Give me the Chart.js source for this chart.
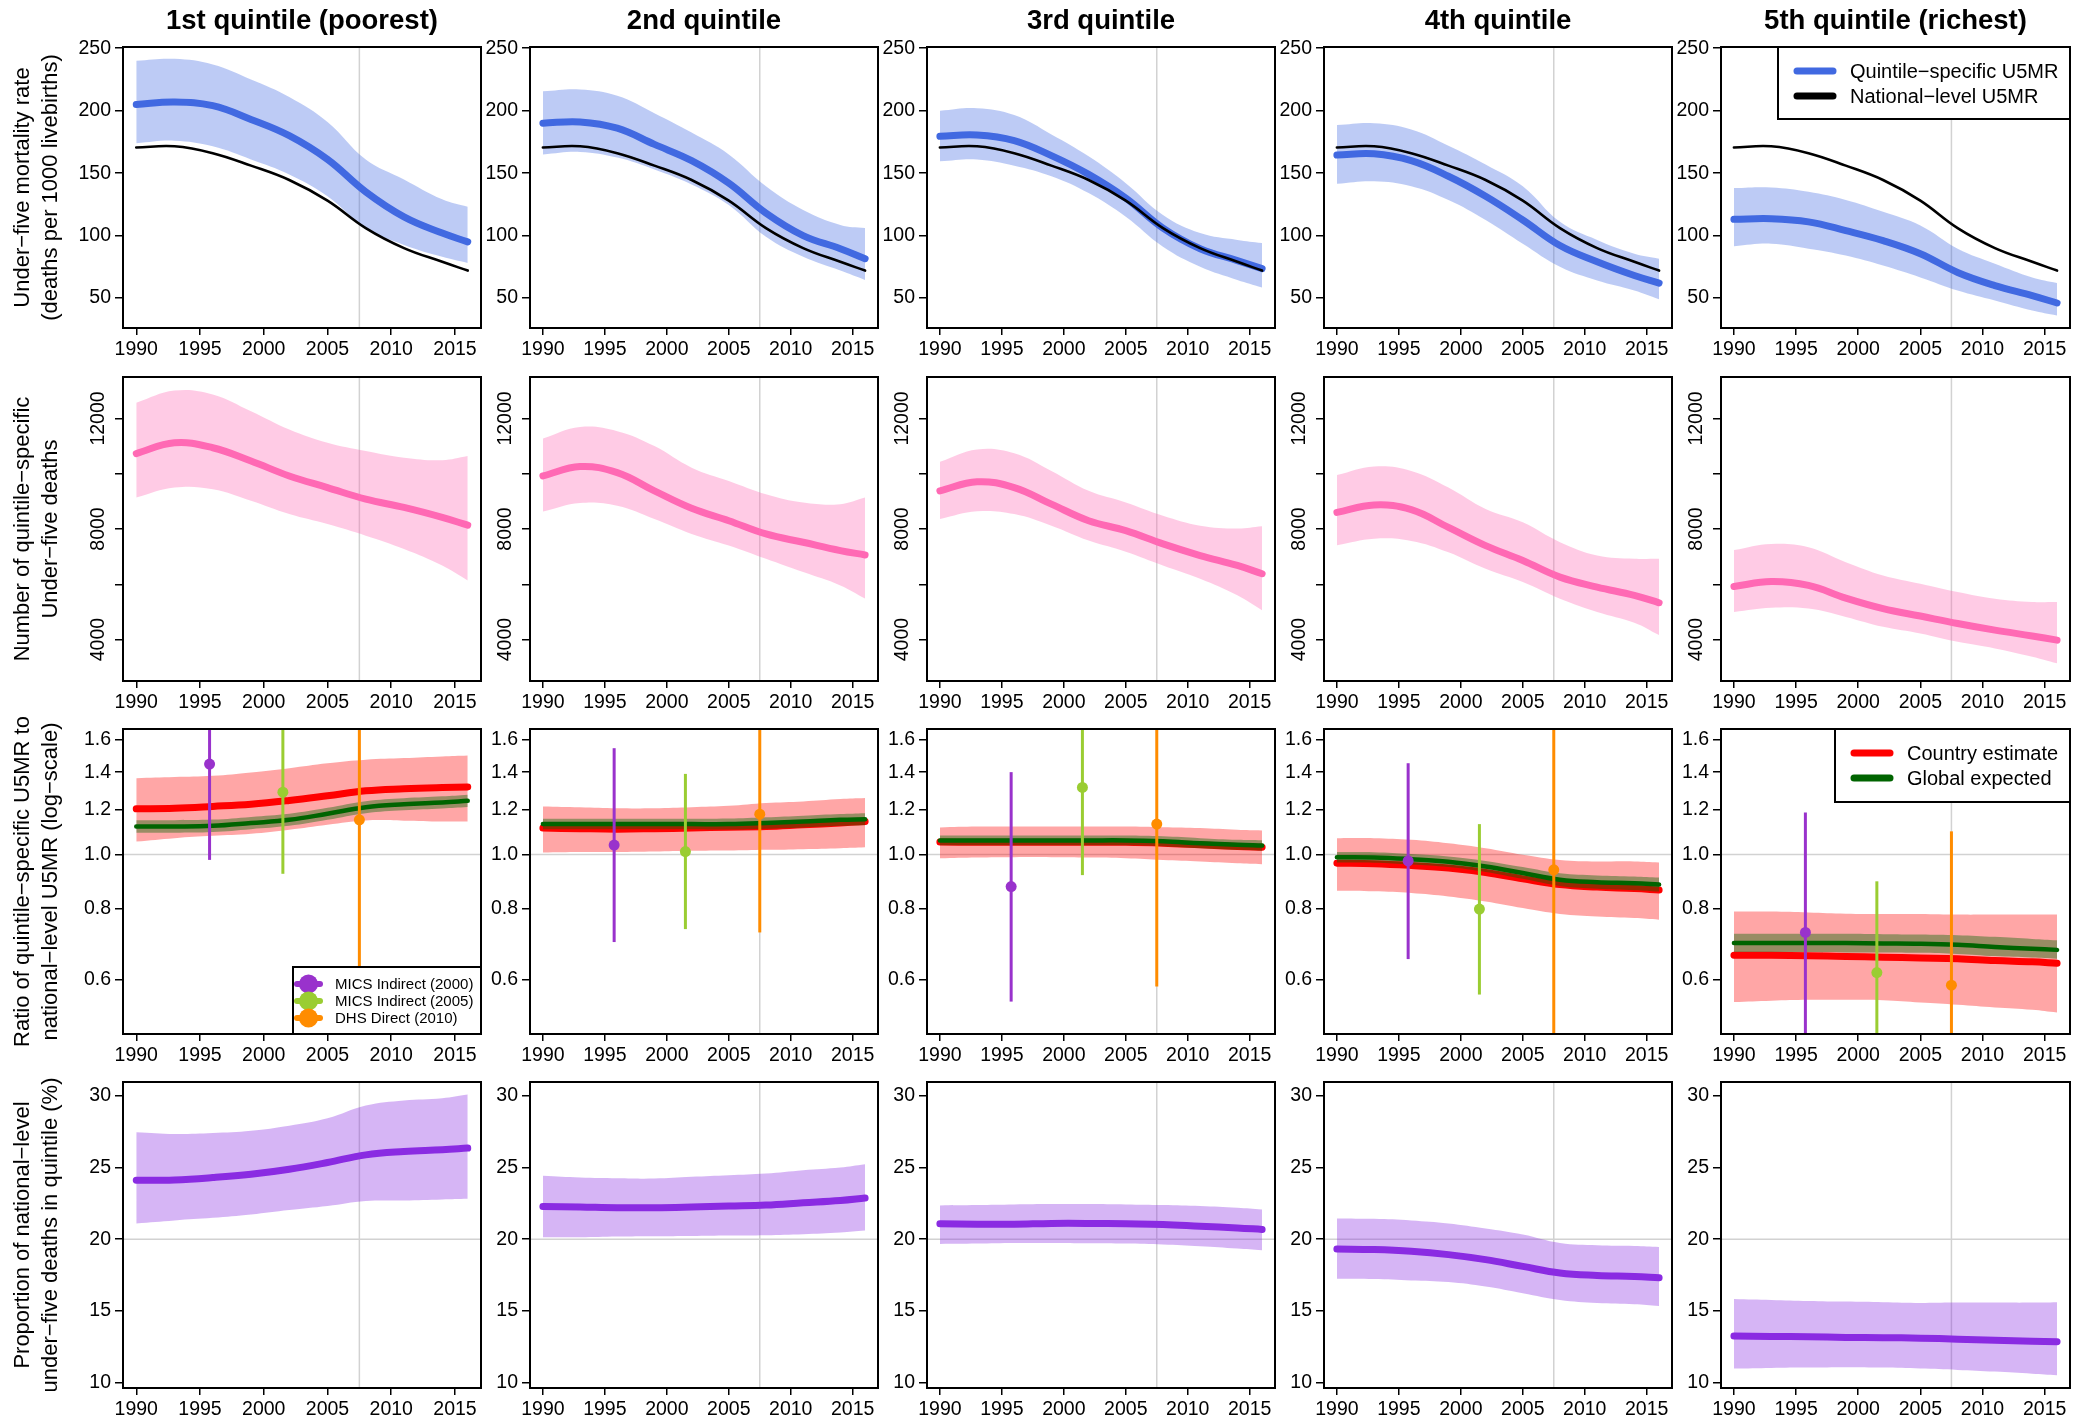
<!DOCTYPE html>
<html lang="en">
<head>
<meta charset="UTF-8">
<title>Under-five mortality by wealth quintile</title>
<script src="https://cdn.jsdelivr.net/npm/chart.js"></script>
<style>
    body { margin: 0; background: #fff; }
    #grid { position: relative; width: 2092px; height: 1419px; overflow: hidden; }
    #grid canvas { position: absolute; }
</style>
</head>
<body>
<div id="grid"></div>
<script>
// years the curves are read at
const years = [1990, 1993, 1996, 1999, 2002, 2005, 2008, 2011, 2014, 2016];
const xTicks = [1990, 1995, 2000, 2005, 2010, 2015];
const refYear = 2007.5;

const quintileTitles = ['1st quintile (poorest)', '2nd quintile', '3rd quintile', '4th quintile', '5th quintile (richest)'];
const rowTitles = [
    ['Under\u2212five mortality rate', '(deaths per 1000 livebirths)'],
    ['Number of quintile\u2212specific', 'Under\u2212five deaths'],
    ['Ratio of quintile\u2212specific U5MR to', 'national\u2212level U5MR (log\u2212scale)'],
    ['Proportion of national\u2212level', 'under\u2212five deaths in quintile (%)']
];

// row 1: U5MR
const u5mrTicks = [50, 100, 150, 200, 250];
const u5mrLegend = ['Quintile\u2212specific U5MR', 'National\u2212level U5MR'];
const nationalU5MR = [170.5, 171.5, 166, 156, 144.5, 128, 106, 90, 79, 72];
const u5mrMid = [
    [205, 207, 204, 193, 180, 161, 135, 115, 102, 95],
    [190, 191, 186, 173, 160, 142, 118, 100, 89.5, 81.5],
    [179.5, 180.5, 176, 164, 149, 130, 106, 89.5, 80, 73.5],
    [164.5, 165.5, 160, 147.5, 131.5, 112.5, 92, 79, 68, 62],
    [113, 113.5, 111, 104, 96, 85.5, 70.5, 60, 52, 46]
];
const u5mrHi = [
    [240, 241.5, 237, 225, 211, 191, 161, 145, 129, 123],
    [215.5, 217, 212, 198, 182.5, 165, 139.5, 120.5, 108.5, 106],
    [200, 202, 196.5, 181, 163.5, 142, 116.5, 102, 96.5, 94],
    [188.5, 190, 185, 172, 157, 139.5, 111, 96.5, 85.5, 81.5],
    [138, 138.5, 135, 128.5, 119, 108, 89.5, 77.5, 66.5, 62]
];
const u5mrLo = [
    [174, 176, 171.5, 161, 149, 131.5, 106, 92.5, 83, 78],
    [165, 167, 162.5, 153, 141, 124.5, 99, 83, 72, 64.5],
    [159.5, 161, 156, 147.5, 134, 115, 91, 75, 64.5, 58.5],
    [141.5, 143.5, 139.5, 128.5, 112.5, 93.5, 75, 64, 56, 49],
    [91.5, 93.5, 89.5, 84, 76, 66.5, 56, 48, 40, 36]
];

// row 2: number of deaths
const deathTicks = [4000, 6000, 8000, 10000, 12000];
const deathLabels = [4000, 8000, 12000];
const deathsMid = [
    [10730, 11120, 10940, 10460, 9920, 9500, 9080, 8780, 8420, 8140],
    [9920, 10260, 10040, 9380, 8750, 8300, 7820, 7520, 7220, 7060],
    [9380, 9710, 9500, 8900, 8300, 7940, 7460, 7040, 6680, 6380],
    [8600, 8870, 8700, 8060, 7400, 6860, 6260, 5900, 5600, 5330],
    [5920, 6100, 5960, 5500, 5120, 4850, 4580, 4340, 4130, 3980]
];
const deathsHi = [
    [12570, 13010, 12870, 12260, 11600, 11120, 10820, 10580, 10490, 10640],
    [11270, 11690, 11540, 11000, 10220, 9740, 9260, 8960, 8900, 9140],
    [10430, 10880, 10740, 10100, 9380, 8960, 8480, 8120, 8020, 8100],
    [9950, 10260, 10100, 9500, 8720, 8240, 7520, 7040, 6920, 6920],
    [7240, 7460, 7340, 6800, 6320, 6020, 5720, 5480, 5360, 5360]
];
const deathsLo = [
    [9140, 9500, 9440, 9020, 8540, 8180, 7760, 7280, 6680, 6140],
    [8630, 8940, 8840, 8360, 7820, 7400, 6920, 6440, 5960, 5480],
    [8360, 8640, 8540, 8120, 7580, 7180, 6680, 6200, 5600, 5060],
    [7410, 7650, 7570, 7160, 6560, 6080, 5480, 5000, 4610, 4160],
    [5000, 5150, 5120, 4820, 4460, 4220, 3920, 3680, 3380, 3140]
];

// row 3: ratio to national level (log scale)
const ratioTicks = [0.6, 0.8, 1.0, 1.2, 1.4, 1.6];
const ratioLegend = ['Country estimate', 'Global expected'];
const ratioMid = [
    [1.205, 1.208, 1.217, 1.228, 1.247, 1.271, 1.297, 1.308, 1.315, 1.318],
    [1.114, 1.111, 1.109, 1.111, 1.114, 1.118, 1.121, 1.129, 1.137, 1.144],
    [1.052, 1.051, 1.051, 1.051, 1.051, 1.051, 1.047, 1.040, 1.033, 1.030],
    [0.965, 0.963, 0.956, 0.946, 0.929, 0.905, 0.884, 0.875, 0.870, 0.865],
    [0.662, 0.662, 0.661, 0.659, 0.657, 0.655, 0.653, 0.648, 0.645, 0.641]
];
const ratioHi = [
    [1.366, 1.372, 1.379, 1.398, 1.423, 1.452, 1.473, 1.483, 1.493, 1.499],
    [1.217, 1.213, 1.208, 1.208, 1.213, 1.220, 1.234, 1.242, 1.254, 1.259],
    [1.117, 1.121, 1.121, 1.121, 1.121, 1.121, 1.118, 1.114, 1.106, 1.103],
    [1.069, 1.069, 1.062, 1.047, 1.026, 0.999, 0.978, 0.972, 0.972, 0.968],
    [0.792, 0.792, 0.789, 0.785, 0.784, 0.784, 0.782, 0.782, 0.782, 0.782]
];
const ratioLo = [
    [1.054, 1.069, 1.079, 1.088, 1.106, 1.129, 1.149, 1.148, 1.144, 1.144],
    [1.008, 1.010, 1.010, 1.012, 1.015, 1.016, 1.019, 1.022, 1.026, 1.030],
    [0.985, 0.988, 0.989, 0.989, 0.988, 0.985, 0.978, 0.972, 0.965, 0.961],
    [0.862, 0.860, 0.854, 0.842, 0.825, 0.803, 0.784, 0.776, 0.771, 0.766],
    [0.547, 0.550, 0.552, 0.552, 0.551, 0.546, 0.541, 0.535, 0.530, 0.524]
];
const globalMid = [
    [1.121, 1.121, 1.124, 1.137, 1.152, 1.181, 1.213, 1.228, 1.237, 1.245],
    [1.132, 1.132, 1.132, 1.132, 1.132, 1.132, 1.137, 1.144, 1.152, 1.155],
    [1.059, 1.059, 1.059, 1.059, 1.059, 1.059, 1.055, 1.047, 1.040, 1.037],
    [0.989, 0.988, 0.981, 0.971, 0.952, 0.927, 0.902, 0.893, 0.889, 0.884],
    [0.696, 0.696, 0.696, 0.696, 0.695, 0.694, 0.691, 0.685, 0.680, 0.677]
];
const globalHi = [
    [1.150, 1.150, 1.153, 1.166, 1.181, 1.210, 1.243, 1.258, 1.268, 1.277],
    [1.157, 1.157, 1.157, 1.157, 1.157, 1.158, 1.164, 1.172, 1.180, 1.184],
    [1.080, 1.080, 1.080, 1.080, 1.080, 1.080, 1.077, 1.069, 1.062, 1.060],
    [1.010, 1.009, 1.002, 0.992, 0.974, 0.950, 0.926, 0.918, 0.914, 0.910],
    [0.723, 0.723, 0.723, 0.723, 0.722, 0.721, 0.719, 0.714, 0.708, 0.704]
];
const globalLo = [
    [1.093, 1.093, 1.096, 1.109, 1.124, 1.152, 1.184, 1.198, 1.207, 1.214],
    [1.108, 1.108, 1.108, 1.108, 1.108, 1.107, 1.111, 1.117, 1.124, 1.127],
    [1.038, 1.038, 1.038, 1.038, 1.038, 1.038, 1.034, 1.026, 1.019, 1.015],
    [0.968, 0.967, 0.960, 0.950, 0.931, 0.905, 0.879, 0.869, 0.864, 0.859],
    [0.671, 0.671, 0.671, 0.670, 0.670, 0.669, 0.666, 0.660, 0.656, 0.653]
];

// survey data points with uncertainty
const surveyNames = ['MICS Indirect (2000)', 'MICS Indirect (2005)', 'DHS Direct (2010)'];
const surveyYears = [1995.75, 2001.5, 2007.5];
const surveyRatio = [
    [1.447, 1.290, 1.152],
    [1.039, 1.012, 1.179],
    [0.877, 1.315, 1.132],
    [0.974, 0.800, 0.939],
    [0.727, 0.617, 0.586]
];
const surveyHi = [
    [2.0, 2.0, 2.0],
    [1.544, 1.390, 2.0],
    [1.400, 2.0, 2.0],
    [1.452, 1.132, 2.0],
    [1.187, 0.896, 1.099]
];
const surveyLo = [
    [0.978, 0.924, 0.40],
    [0.699, 0.737, 0.727],
    [0.548, 0.919, 0.583],
    [0.652, 0.564, 0.40],
    [0.40, 0.40, 0.40]
];

// row 4: share of national deaths (%)
const shareTicks = [10, 15, 20, 25, 30];
const shareMid = [
    [24.10, 24.13, 24.29, 24.52, 24.87, 25.34, 25.87, 26.10, 26.22, 26.34],
    [22.28, 22.24, 22.19, 22.19, 22.24, 22.31, 22.38, 22.54, 22.70, 22.87],
    [21.07, 21.05, 21.05, 21.10, 21.10, 21.07, 21.03, 20.91, 20.79, 20.68],
    [19.32, 19.28, 19.16, 18.93, 18.58, 18.11, 17.65, 17.48, 17.41, 17.32],
    [13.26, 13.24, 13.22, 13.17, 13.15, 13.12, 13.05, 12.98, 12.91, 12.87]
];
const shareHi = [
    [27.44, 27.32, 27.39, 27.55, 27.90, 28.41, 29.30, 29.65, 29.81, 30.07],
    [24.41, 24.29, 24.24, 24.22, 24.34, 24.45, 24.57, 24.80, 24.99, 25.22],
    [22.35, 22.38, 22.42, 22.45, 22.45, 22.42, 22.38, 22.31, 22.19, 22.07],
    [21.45, 21.42, 21.31, 21.10, 20.75, 20.33, 19.74, 19.58, 19.53, 19.46],
    [15.85, 15.78, 15.71, 15.66, 15.62, 15.57, 15.59, 15.59, 15.59, 15.62]
];
const shareLo = [
    [21.10, 21.31, 21.49, 21.72, 22.03, 22.31, 22.66, 22.70, 22.77, 22.82],
    [20.14, 20.14, 20.19, 20.21, 20.23, 20.26, 20.28, 20.35, 20.47, 20.61],
    [19.67, 19.70, 19.74, 19.74, 19.72, 19.70, 19.63, 19.51, 19.35, 19.23],
    [17.25, 17.23, 17.13, 17.02, 16.71, 16.25, 15.78, 15.57, 15.48, 15.36],
    [11.00, 11.05, 11.07, 11.10, 11.07, 11.00, 10.91, 10.79, 10.65, 10.54]
];

// ---- styling / layout ----
const FONT = '"Liberation Sans", Arial, Helvetica, sans-serif';
Chart.defaults.font.family = FONT;
Chart.defaults.color = '#000';

const BLUE = '#4169E1', PINK = '#FF69B4', RED = '#FF0000', GREEN = '#006400', VIOLET = '#8A2BE2';
const surveyColors = ['#9932CC', '#9ACD32', '#FF8C00'];
const refLevels = [null, null, 1.0, 20];

// plot-box edges in page pixels
const boxLeft = [123, 530, 927, 1324, 1721];
const boxRight = [481, 878, 1275, 1672, 2070];
const boxTop = [47, 377, 729, 1082];
const boxBottom = [328, 681, 1034, 1388];

const yAxes = [
    { type: 'linear', min: 26, max: 251, ticks: u5mrTicks, fmt: v => String(v) },
    { type: 'linear', min: 2500, max: 13500, ticks: deathTicks, fmt: null },
    { type: 'logarithmic', min: 0.48, max: 1.67, ticks: ratioTicks, fmt: v => v.toFixed(1) },
    { type: 'linear', min: 9.65, max: 30.94, ticks: shareTicks, fmt: v => String(v) }
];

const pts = vals => years.map((x, i) => ({ x, y: vals[i] }));

function line(vals, color, width, order) {
    return {
        data: pts(vals), borderColor: color, borderWidth: width, pointRadius: 0,
        borderCapStyle: 'round', borderJoinStyle: 'round',
        tension: 0.4, fill: false, order
    };
}

function band(hi, lo, color, order) {
    return [
        { data: pts(hi), borderWidth: 0, borderColor: 'transparent', pointRadius: 0, backgroundColor: color,
          fill: '+1', tension: 0.4, order },
        { data: pts(lo), borderWidth: 0, borderColor: 'transparent', pointRadius: 0, fill: false,
          tension: 0.4, order }
    ];
}

function panelDatasets(r, c) {
    if (r === 0) {
        return [
            ...band(u5mrHi[c], u5mrLo[c], 'rgba(65,105,225,0.35)', 30),
            line(u5mrMid[c], BLUE, 7, 20),
            line(nationalU5MR, '#000', 2.6, 10)
        ];
    }
    if (r === 1) {
        return [
            ...band(deathsHi[c], deathsLo[c], 'rgba(255,105,180,0.35)', 30),
            line(deathsMid[c], PINK, 7, 20)
        ];
    }
    if (r === 2) {
        const bars = surveyYears.map((yr, k) => ({
            data: [{ x: yr, y: surveyLo[c][k] }, { x: yr, y: surveyHi[c][k] }],
            borderColor: surveyColors[k], borderWidth: 3, pointRadius: 0, fill: false, clip: 0, order: 8
        }));
        const dots = {
            data: surveyYears.map((yr, k) => ({ x: yr, y: surveyRatio[c][k] })),
            showLine: false, pointRadius: 5.5, pointBorderWidth: 0,
            pointBackgroundColor: surveyColors, order: 5
        };
        return [
            ...band(ratioHi[c], ratioLo[c], 'rgba(255,0,0,0.35)', 60),
            line(ratioMid[c], RED, 7, 50),
            ...band(globalHi[c], globalLo[c], 'rgba(0,100,0,0.4)', 40),
            line(globalMid[c], GREEN, 4.5, 30),
            ...bars,
            dots
        ];
    }
    return [
        ...band(shareHi[c], shareLo[c], 'rgba(138,43,226,0.35)', 30),
        line(shareMid[c], VIOLET, 7, 20)
    ];
}

function lineLegend(ctx, x, y, w, h, labels, colors) {
    ctx.save();
    ctx.fillStyle = '#fff';
    ctx.fillRect(x, y, w, h);
    ctx.strokeStyle = '#000';
    ctx.lineWidth = 2;
    ctx.strokeRect(x, y, w, h);
    ctx.font = '20px ' + FONT;
    ctx.textAlign = 'left';
    ctx.textBaseline = 'middle';
    labels.forEach((lab, i) => {
        const ly = y + 24 + i * 25;
        ctx.strokeStyle = colors[i];
        ctx.lineWidth = 7;
        ctx.lineCap = 'round';
        ctx.beginPath();
        ctx.moveTo(x + 19, ly);
        ctx.lineTo(x + 55, ly);
        ctx.stroke();
        ctx.fillStyle = '#000';
        ctx.fillText(lab, x + 72, ly + 1);
    });
    ctx.restore();
}

function surveyLegend(ctx, x, y, w, h) {
    ctx.save();
    ctx.fillStyle = '#fff';
    ctx.fillRect(x, y, w, h);
    ctx.strokeStyle = '#000';
    ctx.lineWidth = 2;
    ctx.strokeRect(x, y, w, h);
    ctx.font = '15px ' + FONT;
    ctx.textAlign = 'left';
    ctx.textBaseline = 'middle';
    surveyNames.forEach((lab, k) => {
        const ly = y + 17 + k * 17;
        ctx.strokeStyle = surveyColors[k];
        ctx.fillStyle = surveyColors[k];
        ctx.lineWidth = 6;
        ctx.lineCap = 'round';
        ctx.beginPath();
        ctx.moveTo(x + 4, ly);
        ctx.lineTo(x + 27, ly);
        ctx.stroke();
        ctx.beginPath();
        ctx.arc(x + 15.5, ly, 9.5, 0, Math.PI * 2);
        ctx.fill();
        ctx.fillStyle = '#000';
        ctx.fillText(lab, x + 42, ly + 1);
    });
    ctx.restore();
}

function decorPlugin(r, c) {
    return {
        id: 'panelDecor',
        beforeDatasetsDraw(chart) {
            const { ctx, chartArea: a } = chart;
            const xs = chart.scales.x, ys = chart.scales.y;
            ctx.save();
            ctx.beginPath();
            ctx.rect(a.left, a.top, a.right - a.left, a.bottom - a.top);
            ctx.clip();
            ctx.strokeStyle = '#d2d2d2';
            ctx.lineWidth = 1.5;
            ctx.beginPath();
            const px = xs.getPixelForValue(refYear);
            ctx.moveTo(px, a.top);
            ctx.lineTo(px, a.bottom);
            if (refLevels[r] !== null) {
                const py = ys.getPixelForValue(refLevels[r]);
                ctx.moveTo(a.left, py);
                ctx.lineTo(a.right, py);
            }
            ctx.stroke();
            ctx.restore();
        },
        afterDatasetsDraw(chart) {
            const { ctx, chartArea: a } = chart;
            if (r === 0 && c === 4) lineLegend(ctx, a.right - 292, a.top, 292, 72, u5mrLegend, [BLUE, '#000']);
            if (r === 2 && c === 4) lineLegend(ctx, a.right - 235, a.top, 235, 73, ratioLegend, [RED, GREEN]);
            if (r === 2 && c === 0) surveyLegend(ctx, a.right - 188, a.bottom - 67, 188, 67);
        },
        afterDraw(chart) {
            const { ctx, chartArea: a } = chart;
            ctx.save();
            ctx.strokeStyle = '#000';
            ctx.lineWidth = 2;
            ctx.strokeRect(a.left, a.top, a.right - a.left, a.bottom - a.top);
            ctx.fillStyle = '#000';
            ctx.textAlign = 'center';
            ctx.textBaseline = 'middle';
            if (r === 1) {
                // rotated tick labels, as R draws them
                ctx.font = '19.5px ' + FONT;
                deathLabels.forEach(v => {
                    const py = chart.scales.y.getPixelForValue(v);
                    ctx.save();
                    ctx.translate(a.left - 24, py);
                    ctx.rotate(-Math.PI / 2);
                    ctx.fillText(String(v), 0, 0);
                    ctx.restore();
                });
            }
            if (r === 0) {
                ctx.font = 'bold 27.5px ' + FONT;
                ctx.fillText(quintileTitles[c], (a.left + a.right) / 2, 21);
            }
            if (c === 0) {
                ctx.font = '22px ' + FONT;
                const my = (a.top + a.bottom) / 2;
                rowTitles[r].forEach((txt, i) => {
                    ctx.save();
                    ctx.translate(23 + 28 * i, my);
                    ctx.rotate(-Math.PI / 2);
                    ctx.fillText(txt, 0, 0);
                    ctx.restore();
                });
            }
            ctx.restore();
        }
    };
}

const grid = document.getElementById('grid');

for (let r = 0; r < 4; r++) {
    for (let c = 0; c < 5; c++) {
        const L = c === 0 ? boxLeft[0] : 50;
        const T = r === 0 ? boxTop[0] : (c === 0 ? 30 : 6);
        const R = 6;
        const B = r === 3 ? 31 : 38;
        const W = L + (boxRight[c] - boxLeft[c]) + R;
        const H = T + (boxBottom[r] - boxTop[r]) + B;

        const cv = document.createElement('canvas');
        cv.width = W;
        cv.height = H;
        cv.style.width = W + 'px';
        cv.style.height = H + 'px';
        cv.style.left = (boxLeft[c] - L) + 'px';
        cv.style.top = (boxTop[r] - T) + 'px';
        grid.appendChild(cv);

        const ya = yAxes[r];
        new Chart(cv, {
            type: 'line',
            data: { datasets: panelDatasets(r, c) },
            options: {
                responsive: false,
                animation: false,
                devicePixelRatio: 1,
                events: [],
                layout: { padding: { top: T, right: R, left: 0, bottom: 0 } },
                plugins: { legend: { display: false }, tooltip: { enabled: false } },
                scales: {
                    x: {
                        type: 'linear', min: 1988.96, max: 2017.04,
                        afterBuildTicks: s => { s.ticks = xTicks.map(v => ({ value: v })); },
                        afterFit: s => { s.height = B; s.paddingLeft = 0; s.paddingRight = 0; },
                        border: { display: false },
                        grid: { drawOnChartArea: false, drawTicks: true, tickLength: 7, color: '#000', lineWidth: 1.5 },
                        ticks: { font: { size: 19.5 }, color: '#000', padding: 3, maxRotation: 0, autoSkip: false,
                                 callback: v => String(v) }
                    },
                    y: {
                        type: ya.type, min: ya.min, max: ya.max,
                        afterBuildTicks: s => { s.ticks = ya.ticks.map(v => ({ value: v })); },
                        afterFit: s => { s.width = L; s.paddingTop = 0; s.paddingBottom = 0; },
                        border: { display: false },
                        grid: { drawOnChartArea: false, drawTicks: true, tickLength: 8, color: '#000', lineWidth: 1.5 },
                        ticks: { display: ya.fmt !== null, font: { size: 19.5 }, color: '#000', padding: 4, autoSkip: false,
                                 callback: v => (ya.fmt ? ya.fmt(v) : '') }
                    }
                }
            },
            plugins: [decorPlugin(r, c)]
        });
    }
}
</script>
</body>
</html>
